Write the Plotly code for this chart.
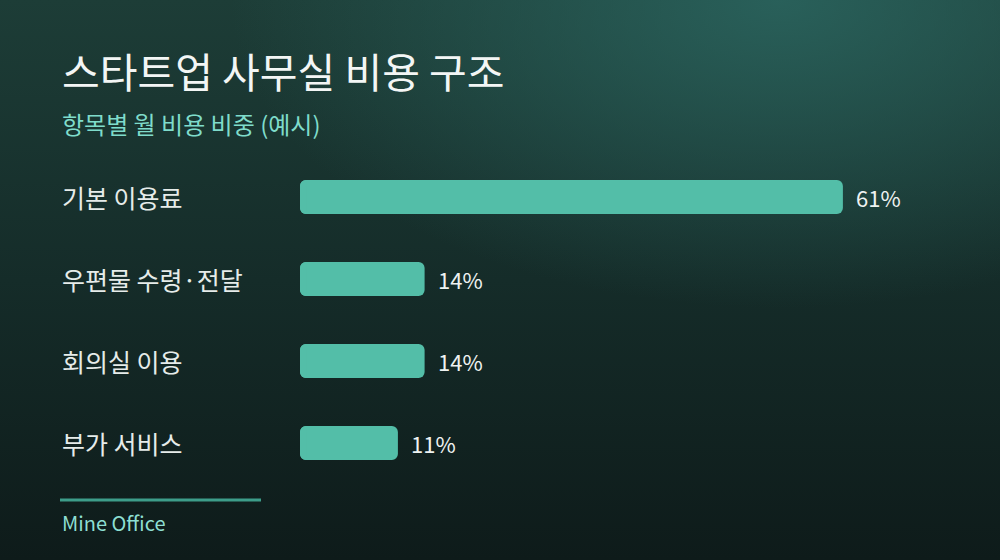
import base64
import plotly.graph_objects as go

# data
categories = ["기본 이용료", "우편물 수령·전달", "회의실 이용", "부가 서비스"]
shares = [61, 14, 14, 11]
value_labels = ["61%", "14%", "14%", "11%"]

title = "스타트업 사무실 비용 구조"
subtitle = "항목별 월 비용 비중 (예시)"
source = "Mine Office"

W, H = 1000, 560
L, R, T, B = 300, 0, 156, 76
PW, PH = W - L - R, H - T - B
FONT = "Noto Sans CJK KR, Noto Sans, sans-serif"
BAR = "#53bea8"
K = 8.9          # pixels per percent
CAP = 0.7        # width of the rounded left cap, in percent units


def px_x(x):
    return (x - L) / PW


def px_y(y):
    return (H - B - y) / PH


# background gradient as an inline svg image
svg = f"""<svg xmlns='http://www.w3.org/2000/svg' width='{W}' height='{H}'>
<defs>
<linearGradient id='g' x1='0' y1='0' x2='0' y2='1'>
<stop offset='0' stop-color='#1d3d37'/>
<stop offset='0.5' stop-color='#152c29'/>
<stop offset='1' stop-color='#0e1b1a'/>
</linearGradient>
<radialGradient id='r' cx='0.78' cy='0.0' r='0.55'>
<stop offset='0' stop-color='#2b6660' stop-opacity='0.85'/>
<stop offset='1' stop-color='#2b6660' stop-opacity='0'/>
</radialGradient>
</defs>
<rect width='{W}' height='{H}' fill='url(#g)'/>
<rect width='{W}' height='{H}' fill='url(#r)'/>
</svg>"""
bg = "data:image/svg+xml;base64," + base64.b64encode(svg.encode()).decode()

fig = go.Figure()
# main bar, shifted left by the cap so its total length stays v
fig.add_trace(go.Bar(
    x=shares, base=[-CAP] * len(shares), y=categories, orientation="h",
    marker=dict(color=BAR, line=dict(width=0)), hoverinfo="skip",
))
# small negative cap so the left end gets rounded corners too
fig.add_trace(go.Bar(
    x=[-CAP] * len(shares), y=categories, orientation="h",
    marker=dict(color=BAR, line=dict(width=0)), hoverinfo="skip",
))

annotations = [
    dict(text=title, x=px_x(60), y=px_y(70), xref="paper", yref="paper",
         xanchor="left", yanchor="middle", showarrow=False,
         font=dict(size=41, color="#f3f6f5", family=FONT)),
    dict(text=subtitle, x=px_x(60), y=px_y(123), xref="paper", yref="paper",
         xanchor="left", yanchor="middle", showarrow=False,
         font=dict(size=24, color="#7fdccb", family=FONT)),
    dict(text=source, x=px_x(60), y=px_y(522), xref="paper", yref="paper",
         xanchor="left", yanchor="middle", showarrow=False,
         font=dict(size=20, color="#8ddfd2", family=FONT)),
]
for cat, v, lab in zip(categories, shares, value_labels):
    annotations.append(dict(text=cat, x=px_x(60), y=cat, xref="paper", yref="y",
                            xanchor="left", yanchor="middle", showarrow=False,
                            font=dict(size=25, color="#e6ecea", family=FONT)))
    annotations.append(dict(text=lab, x=v - CAP, y=cat, xref="x", yref="y",
                            xanchor="left", yanchor="middle", showarrow=False,
                            xshift=11,
                            font=dict(size=22, color="#eef2f1", family=FONT)))

fig.update_layout(
    width=W, height=H,
    margin=dict(l=L, r=R, t=T, b=B),
    paper_bgcolor="#142a27",
    plot_bgcolor="rgba(0,0,0,0)",
    showlegend=False,
    barmode="overlay",
    bargap=0.585,
    barcornerradius=6,
    annotations=annotations,
    shapes=[dict(type="line", xref="paper", yref="paper",
                 x0=px_x(60), x1=px_x(261), y0=px_y(500), y1=px_y(500),
                 line=dict(color="#3d9d8a", width=3))],
    images=[dict(source=bg, xref="paper", yref="paper",
                 x=px_x(0), y=px_y(0), sizex=W / PW, sizey=H / PH,
                 xanchor="left", yanchor="top", sizing="stretch",
                 layer="below")],
)
fig.update_xaxes(range=[-CAP, PW / K - CAP], visible=False, fixedrange=True)
fig.update_yaxes(autorange="reversed", visible=False, fixedrange=True)

fig.write_html("out.html", config=dict(displayModeBar=False),
               post_script="document.body.style.margin='0';")
